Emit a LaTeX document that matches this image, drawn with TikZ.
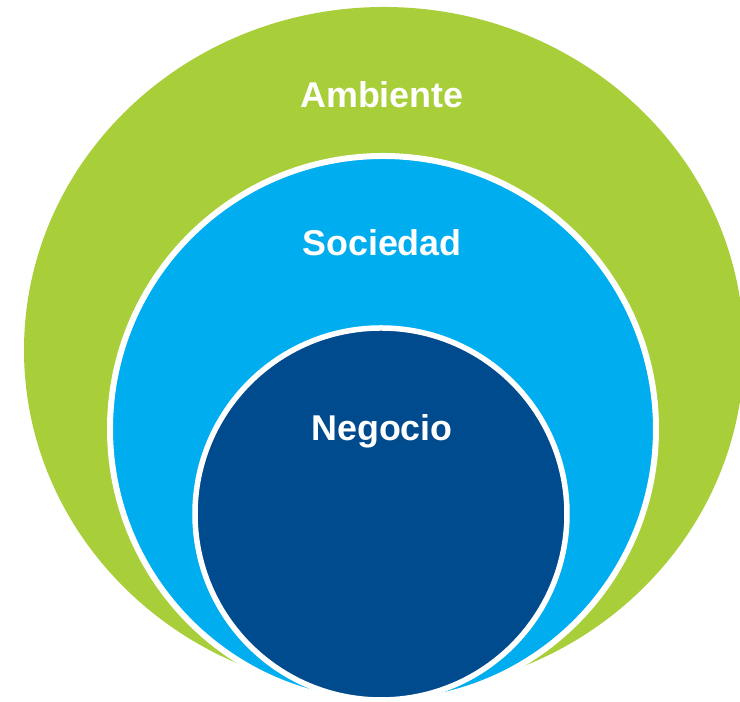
\documentclass[tikz,border=0pt]{standalone}
\usepackage{fontspec}
\setmainfont{Liberation Sans}
\definecolor{ambgreen}{RGB}{168,206,57}
\definecolor{socblue}{RGB}{0,173,238}
\definecolor{negblue}{RGB}{0,75,141}
\tikzset{
  ring/.style={draw=white, line width=0.6mm},
  ringtext/.style={text=white, anchor=base, font=\bfseries\fontsize{10.2}{12}\selectfont}
}
\begin{document}
\begin{tikzpicture}[x=0.1mm, y=-0.1mm]
  \useasboundingbox (0,0) rectangle (740,702);
  % outer, middle and inner circles
  \fill [ambgreen] (384,350) ellipse [x radius=360, y radius=343];
  \filldraw [ring, fill=socblue] (383,429) circle [radius=273];
  \filldraw [ring, line width=0.55mm, fill=negblue] (381,514) circle [radius=186];
  % labels
  \node [ringtext] (ambiente) at (382,108) {Ambiente};
  \node [ringtext] (sociedad) at (382,256) {Sociedad};
  \node [ringtext] (negocio) at (382,441) {Negocio};
\end{tikzpicture}
\end{document}
